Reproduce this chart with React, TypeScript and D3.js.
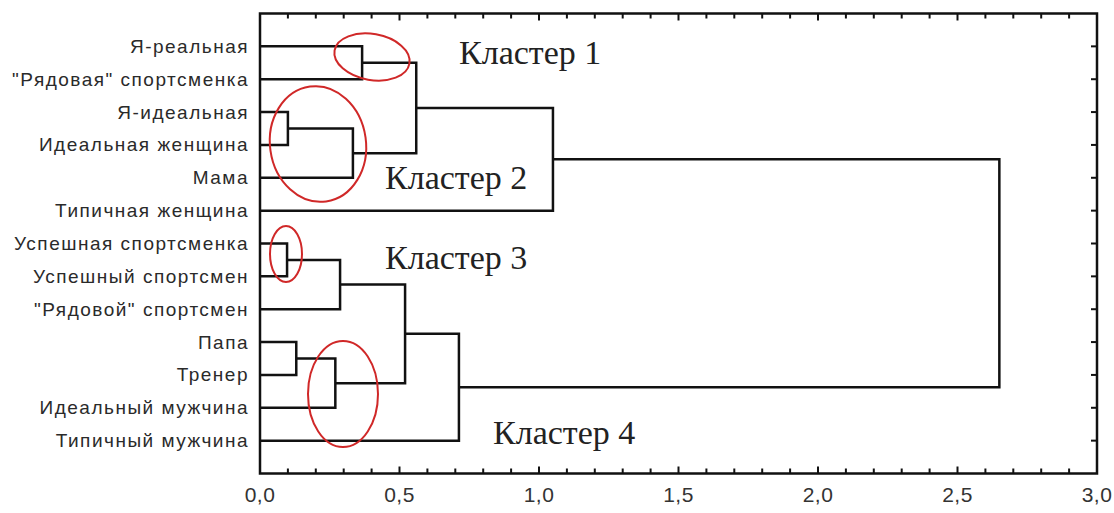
import React from "react";
import * as d3 from "d3";

const leafLabels = [
  "Я-реальная",
  "\"Рядовая\" спортсменка",
  "Я-идеальная",
  "Идеальная женщина",
  "Мама",
  "Типичная женщина",
  "Успешная спортсменка",
  "Успешный спортсмен",
  "\"Рядовой\" спортсмен",
  "Папа",
  "Тренер",
  "Идеальный мужчина",
  "Типичный мужчина",
];

// linkage: [childA, childB, distance]; ids >= leafLabels.length are earlier merges
const mergeA = [0, 2, 14, 13, 16, 6, 18, 9, 20, 19, 22, 17];
const mergeB = [1, 3, 4, 15, 5, 7, 8, 10, 11, 21, 12, 23];
const mergeDist = [0.366, 0.1, 0.333, 0.56, 1.05, 0.097, 0.287, 0.13, 0.27, 0.52, 0.713, 2.65];

const xTicks = [0, 0.5, 1, 1.5, 2, 2.5, 3];
const clusterNames = ["Кластер 1", "Кластер 2", "Кластер 3", "Кластер 4"];

const W = 1114;
const H = 513;
const left = 260;
const right = 1097;
const top = 13.5;
const bottom = 473.5;

export default function App() {
  const x = d3.scaleLinear().domain([0, 3]).range([left, right]);
  const y = d3
    .scalePoint<number>()
    .domain(d3.range(-1, leafLabels.length + 1))
    .range([top, bottom]);

  const n = leafLabels.length;
  const nodeX: number[] = [];
  const nodeY: number[] = [];
  leafLabels.forEach((_, i) => {
    nodeX[i] = x(0);
    nodeY[i] = y(i) as number;
  });
  const paths: string[] = [];
  mergeA.forEach((a, k) => {
    const b = mergeB[k];
    const id = n + k;
    const xm = x(mergeDist[k]);
    const p = d3.path();
    p.moveTo(nodeX[a], nodeY[a]);
    p.lineTo(xm, nodeY[a]);
    p.lineTo(xm, nodeY[b]);
    p.lineTo(nodeX[b], nodeY[b]);
    paths.push(p.toString());
    nodeX[id] = xm;
    nodeY[id] = (nodeY[a] + nodeY[b]) / 2;
  });

  const minor = d3.range(0, 3.0001, 0.1);
  const fmt = (v: number) => d3.format(".1f")(v).replace(".", ",");

  const ellipses = [
    { cx: 372, cy: 57, rx: 38, ry: 23, rot: 10 },
    { cx: 318, cy: 144, rx: 48, ry: 58, rot: -8 },
    { cx: 286, cy: 254, rx: 16, ry: 28, rot: 0 },
    { cx: 343, cy: 394, rx: 35, ry: 53, rot: 0 },
  ];
  const clusterPos = [
    { x: 459, y: 64 },
    { x: 385, y: 189 },
    { x: 385, y: 269 },
    { x: 493, y: 444 },
  ];

  return (
    <svg
      width={W}
      height={H}
      style={{ position: "absolute", left: 0, top: 0, background: "#fff" }}
    >
      <rect x={0} y={0} width={W} height={H} fill="#fff" />
      <rect
        x={left}
        y={top}
        width={right - left}
        height={bottom - top}
        fill="none"
        stroke="#111"
        strokeWidth={2.5}
      />
      {minor.map((v, i) => {
        const major = Math.abs(v * 2 - Math.round(v * 2)) < 1e-6;
        const len = major ? 7 : 5;
        return (
          <g key={"t" + i} stroke="#111" strokeWidth={2}>
            <line x1={x(v)} x2={x(v)} y1={bottom} y2={bottom - len} />
            <line x1={x(v)} x2={x(v)} y1={top} y2={top + len} />
          </g>
        );
      })}
      {leafLabels.map((_, i) => (
        <line
          key={"r" + i}
          x1={right}
          x2={right - 6}
          y1={y(i) as number}
          y2={y(i) as number}
          stroke="#111"
          strokeWidth={2}
        />
      ))}
      {xTicks.map((v) => (
        <text
          key={"l" + v}
          x={x(v)}
          y={502}
          textAnchor="middle"
          fontFamily="Liberation Sans, Arial, sans-serif"
          fontSize={21}
          letterSpacing={0.5}
          fill="#333"
        >
          {fmt(v)}
        </text>
      ))}
      {paths.map((d, i) => (
        <path key={"p" + i} d={d} fill="none" stroke="#111" strokeWidth={2.5} />
      ))}
      {leafLabels.map((t, i) => (
        <text
          key={"n" + i}
          x={249}
          y={(y(i) as number) + 6.5}
          textAnchor="end"
          fontFamily="Liberation Sans, Arial, sans-serif"
          fontSize={19}
          letterSpacing={1.5}
          fill="#2a2a2a"
        >
          {t}
        </text>
      ))}
      {ellipses.map((e, i) => (
        <ellipse
          key={"e" + i}
          cx={e.cx}
          cy={e.cy}
          rx={e.rx}
          ry={e.ry}
          transform={`rotate(${e.rot} ${e.cx} ${e.cy})`}
          fill="none"
          stroke="#d02828"
          strokeWidth={2}
        />
      ))}
      {clusterNames.map((c, i) => (
        <text
          key={"c" + i}
          x={clusterPos[i].x}
          y={clusterPos[i].y}
          fontFamily="Liberation Serif, Times New Roman, serif"
          fontSize={34}
          fill="#222"
        >
          {c}
        </text>
      ))}
    </svg>
  );
}
